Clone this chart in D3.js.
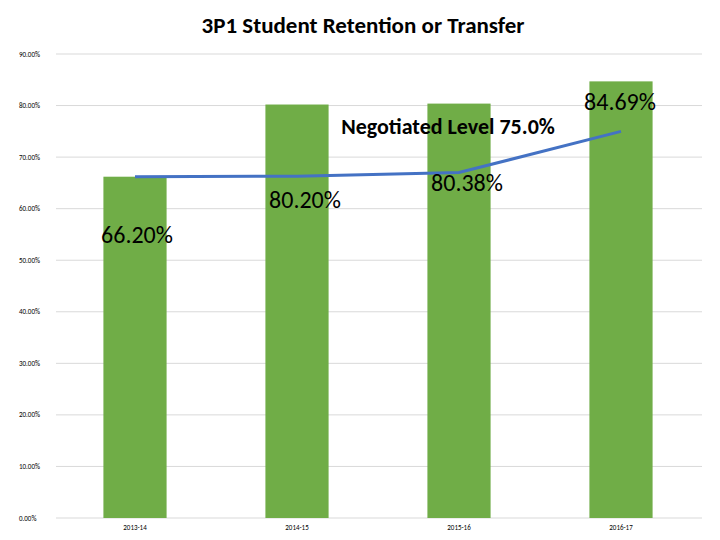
<!DOCTYPE html>
<html><head><meta charset="utf-8">
<script src="https://cdn.jsdelivr.net/npm/d3@7"></script>
<style>body{margin:0;background:#fff}</style>
</head><body>
<svg id="c" width="720" height="540"></svg>
<script>
const years = ["2013-14","2014-15","2015-16","2016-17"];
const retention = [66.2, 80.2, 80.38, 84.69];
const negotiated = [66.2, 66.3, 67.0, 75.0];
const barLabels = ["66.20%","80.20%","80.38%","84.69%"];
const ticks = [0,10,20,30,40,50,60,70,80,90];

const svg = d3.select("#c");
const font = "Calibri, Carlito, 'Liberation Sans', sans-serif";
const x = d3.scaleBand().domain(years).range([54, 702]).paddingInner(0.61).paddingOuter(0.305);
const y = d3.scaleLinear().domain([0, 90]).range([518, 54]);

svg.append("text").attr("x", 363).attr("y", 33).attr("text-anchor", "middle")
  .attr("font-family", font).attr("font-weight", "bold").attr("font-size", 23).text("3P1 Student Retention or Transfer");

svg.append("g").selectAll("line").data(ticks).join("line")
  .attr("x1", 56).attr("x2", 702).attr("y1", d => y(d)).attr("y2", d => y(d))
  .attr("stroke", "#d9d9d9");
svg.append("g").selectAll("text").data(ticks).join("text")
  .attr("x", 19).attr("y", d => y(d) + 2.5).attr("font-size", 7).attr("font-family", font)
  .text(d => d.toFixed(2) + "%");

svg.append("g").selectAll("rect").data(retention).join("rect")
  .attr("x", (d, i) => x(years[i])).attr("width", x.bandwidth())
  .attr("y", d => y(d)).attr("height", d => y(0) - y(d)).attr("fill", "#70ad47");

svg.append("g").selectAll("text").data(years).join("text")
  .attr("x", d => x(d) + x.bandwidth() / 2).attr("y", 530).attr("text-anchor", "middle")
  .attr("font-size", 7).attr("font-family", font).text(d => d);

const line = d3.line().x((d, i) => x(years[i]) + x.bandwidth() / 2).y(d => y(d));
svg.append("path").datum(negotiated).attr("d", line).attr("fill", "none")
  .attr("stroke", "#4472c4").attr("stroke-width", 3);

const lblPos = [[137, 243], [305, 208], [467, 191], [620, 110]];
svg.append("g").selectAll("text").data(barLabels).join("text")
  .attr("x", (d, i) => lblPos[i][0]).attr("y", (d, i) => lblPos[i][1]).attr("text-anchor", "middle")
  .attr("font-family", font).attr("font-size", 24).text(d => d);

svg.append("text").attr("x", 448).attr("y", 134).attr("text-anchor", "middle")
  .attr("font-family", font).attr("font-weight", "bold").attr("font-size", 22).text("Negotiated Level 75.0%");
</script>
</body></html>
